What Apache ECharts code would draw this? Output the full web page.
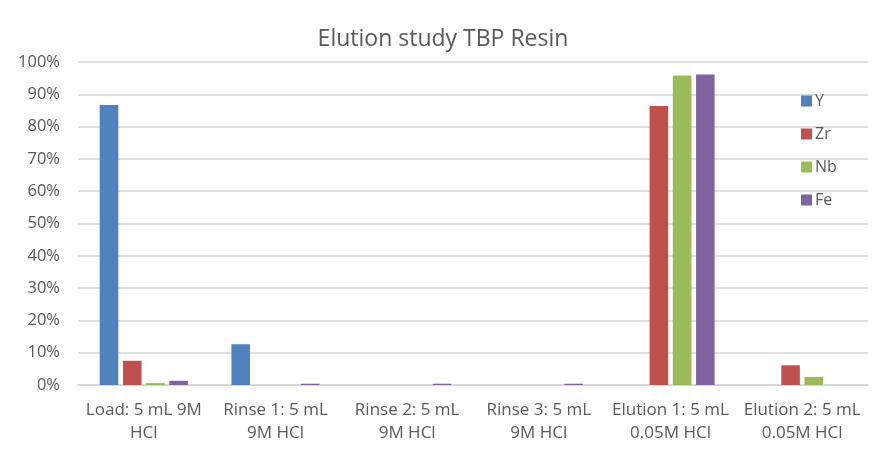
<!DOCTYPE html>
<html>
<head>
<meta charset="utf-8">
<script src="https://cdn.jsdelivr.net/npm/echarts@6/dist/echarts.min.js"></script>
<style>
  html, body { margin: 0; padding: 0; background: #fff; }
  #main { width: 886px; height: 474px; }
</style>
</head>
<body>
<div id="main"></div>
<script>
// stages of the elution
var categories = ['Load: 5 mL 9M\nHCl', 'Rinse 1: 5 mL\n9M HCl', 'Rinse 2: 5 mL\n9M HCl',
  'Rinse 3: 5 mL\n9M HCl', 'Elution 1: 5 mL\n0.05M HCl', 'Elution 2: 5 mL\n0.05M HCl'];
// fractions (%)
var yVals = [86.7, 12.6, 0, 0, 0, 0];
var zrVals = [7.5, 0, 0, 0, 86.4, 6.1];
var nbVals = [0.6, 0, 0, 0, 95.8, 2.5];
var feVals = [1.3, 0.4, 0.4, 0.4, 96.1, 0];

var chart = echarts.init(document.getElementById('main'));
var txt = '#595959';
var font = 'Open Sans, Liberation Sans, sans-serif';

function bar(name, data, color) {
  return {
    name: name,
    type: 'bar',
    data: data,
    barGap: '25%',
    barCategoryGap: '33%',
    itemStyle: { color: color }
  };
}

var option = {
  animation: false,
  textStyle: { fontFamily: font },
  title: {
    text: 'Elution study TBP Resin',
    left: 'center',
    top: 23,
    textStyle: { color: txt, fontSize: 23, fontWeight: 'normal', fontFamily: font }
  },
  legend: {
    orient: 'vertical',
    left: 796,
    top: 88,
    itemGap: 17,
    itemWidth: 11,
    itemHeight: 11,
    icon: 'rect',
    textStyle: { color: txt, fontSize: 16, fontFamily: font, padding: [0, 0, 0, -2] }
  },
  grid: { left: 78, right: 18, top: 62, bottom: 89 },
  xAxis: {
    type: 'category',
    data: categories,
    axisLine: { lineStyle: { color: '#d4d4d4', width: 1.5 } },
    axisTick: { show: false },
    axisLabel: { interval: 0, color: txt, fontSize: 17, lineHeight: 23, margin: 14, fontFamily: font }
  },
  yAxis: {
    type: 'value',
    min: 0,
    max: 100,
    interval: 10,
    axisLine: { show: false },
    axisTick: { show: false },
    axisLabel: { color: txt, fontSize: 16.5, margin: 18, fontFamily: font, formatter: '{value}%' },
    splitLine: { lineStyle: { color: '#d4d4d4', width: 1.5 } }
  },
  series: [
    bar('Y', yVals, '#4F81BD'),
    bar('Zr', zrVals, '#C0504D'),
    bar('Nb', nbVals, '#9BBB59'),
    bar('Fe', feVals, '#8064A2')
  ]
};
chart.setOption(option);
</script>
</body>
</html>
